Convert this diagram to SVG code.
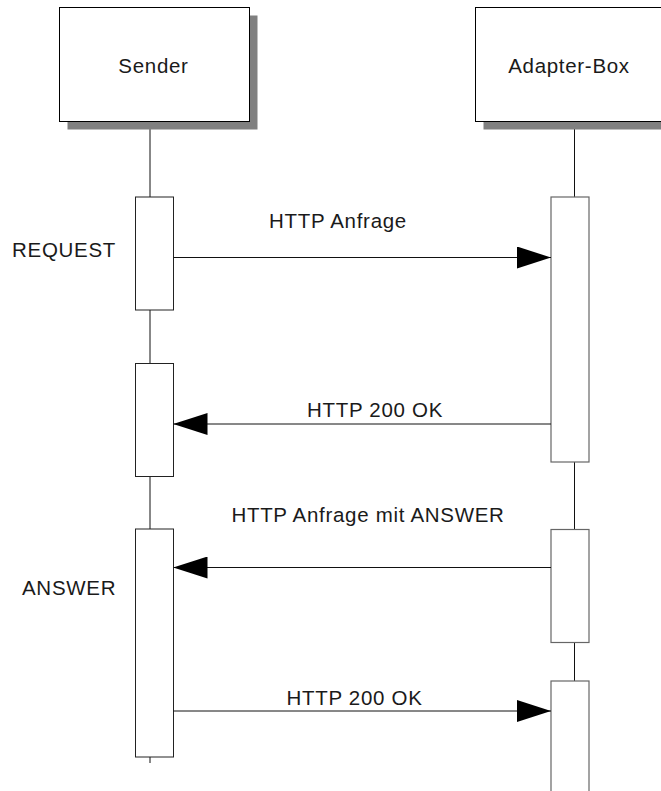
<svg xmlns="http://www.w3.org/2000/svg" width="661" height="791" viewBox="0 0 661 791">
<style>
.shadow{fill:#808080;stroke:none}
.head{fill:#fff;stroke:#000;stroke-width:1}
.act{fill:#fff;stroke:#222;stroke-width:1}
.act2{fill:#fff;stroke:#666;stroke-width:1.2}
.life{stroke:#111;stroke-width:1;fill:none}
.msg{stroke:#111;stroke-width:1;fill:none}
text{font-family:"Liberation Sans",Arial,sans-serif;font-size:20.5px;letter-spacing:0.7px;fill:#1a1a1a}
.c{text-anchor:middle}
</style>
<defs>
<marker id="ah" markerWidth="34" markerHeight="22" refX="34" refY="11" orient="auto" markerUnits="userSpaceOnUse">
<polygon points="0,0 34,11 0,22" fill="#000"/>
</marker>
</defs>
<g id="lifelines">
<line class="life" x1="150" y1="121" x2="150" y2="197"/>
<line class="life" x1="150" y1="310" x2="150" y2="363"/>
<line class="life" x1="150" y1="477" x2="150" y2="529"/>
<line class="life" x1="150" y1="757" x2="150" y2="763"/>
<line class="life" x1="574.5" y1="121" x2="574.5" y2="197"/>
<line class="life" x1="574.5" y1="462" x2="574.5" y2="529"/>
<line class="life" x1="574.5" y1="643" x2="574.5" y2="681"/>
</g>
<g id="sender">
<rect class="shadow" x="67.5" y="15.5" width="190" height="114"/>
<rect class="head" x="59.5" y="7.5" width="190" height="114"/>
<text class="c" x="153.5" y="73">Sender</text>
</g>
<g id="adapter-box">
<rect class="shadow" x="483.5" y="15.5" width="190" height="114"/>
<rect class="head" x="475.5" y="7.5" width="190" height="114"/>
<text class="c" x="569" y="73">Adapter-Box</text>
</g>
<g id="sender-act-1"><rect class="act" x="135.5" y="197" width="38" height="113"/></g>
<g id="sender-act-2"><rect class="act" x="135.5" y="363.5" width="38" height="113"/></g>
<g id="sender-act-3"><rect class="act" x="135.5" y="529" width="38" height="228"/></g>
<g id="adapter-act-1"><rect class="act2" x="551" y="197" width="38" height="265"/></g>
<g id="adapter-act-2"><rect class="act2" x="551" y="529.5" width="38" height="113"/></g>
<g id="adapter-act-3"><rect class="act2" x="551" y="681" width="38" height="115"/></g>
<g id="labels">
<text x="12" y="257">REQUEST</text>
<text x="22" y="595">ANSWER</text>
</g>
<g id="connectors">
<line class="msg" x1="173.5" y1="257.5" x2="551" y2="257.5" marker-end="url(#ah)"/>
<text class="c" x="338" y="228">HTTP Anfrage</text>
<line class="msg" x1="551" y1="424" x2="173.5" y2="424" marker-end="url(#ah)"/>
<text class="c" x="375" y="417">HTTP 200 OK</text>
<line class="msg" x1="551" y1="567.5" x2="173.5" y2="567.5" marker-end="url(#ah)"/>
<text class="c" x="368" y="522">HTTP Anfrage mit ANSWER</text>
<line class="msg" x1="173.5" y1="711" x2="551" y2="711" marker-end="url(#ah)"/>
<text class="c" x="354.5" y="705">HTTP 200 OK</text>
</g>
</svg>
